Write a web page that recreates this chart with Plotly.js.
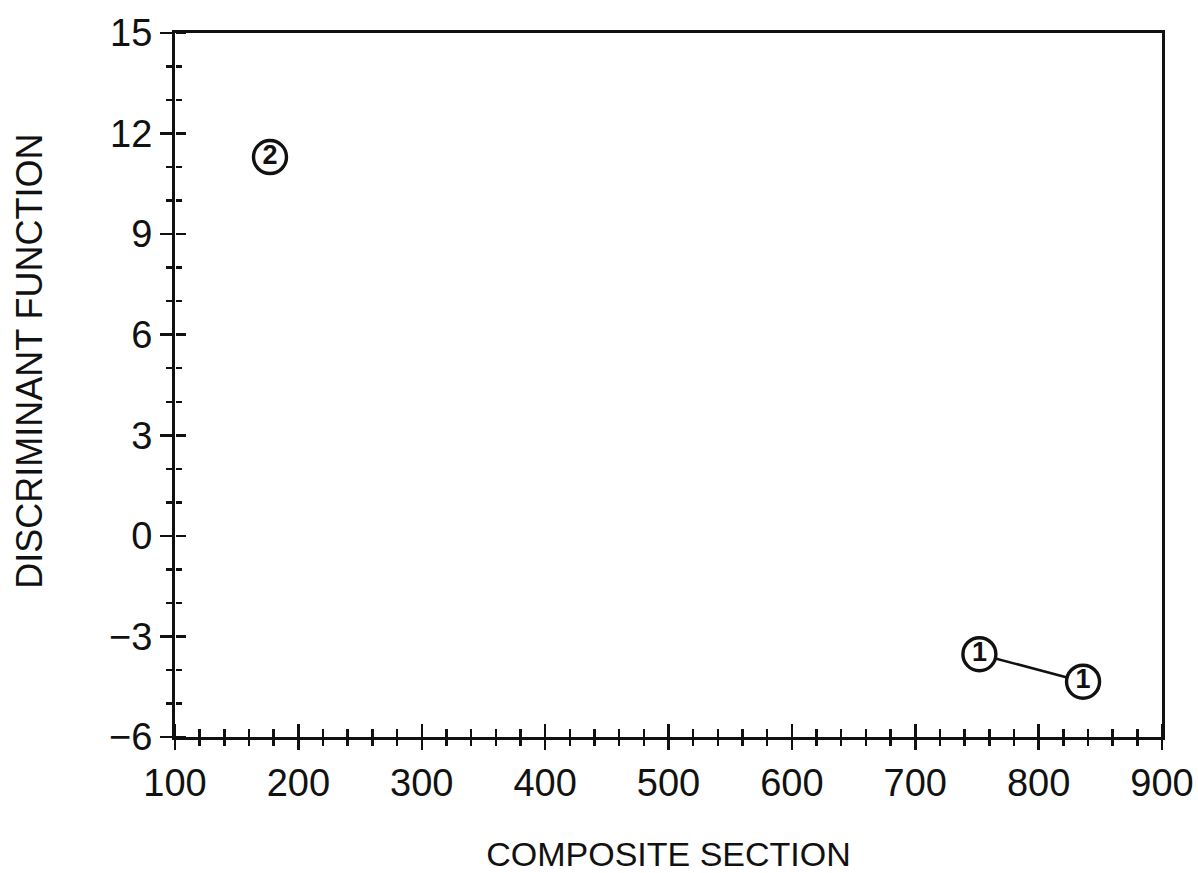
<!DOCTYPE html>
<html>
<head>
<meta charset="utf-8">
<script src="https://cdn.plot.ly/plotly-3.0.1.min.js"></script>
<style>
  html, body { margin: 0; padding: 0; background: #ffffff; }
  #chart { width: 1198px; height: 873px; }
</style>
</head>
<body>
<div id="chart"></div>
<script>
// Group membership of each sample along the composite section
const group1Labels = ['1', '1'];
const group1Section = [752, 836];
const group1Score = [-3.53, -4.35];

const group2Labels = ['2'];
const group2Section = [177];
const group2Score = [11.3];

const xRange = [100, 900];
const yRange = [-6, 15];

const ink = '#111';
const tickFont = { family: '"Liberation Sans", Arial, sans-serif', size: 38, color: ink };
const markerFont = { family: '"Liberation Sans", Arial, sans-serif', size: 27, color: ink, weight: 'bold' };

function groupTrace(xs, ys, labels, withLine) {
  return {
    type: 'scatter',
    x: xs,
    y: ys,
    text: labels,
    mode: withLine ? 'lines+markers+text' : 'markers+text',
    textposition: 'middle center',
    textfont: markerFont,
    line: { color: ink, width: 2.5 },
    marker: { symbol: 'circle', size: 33, color: '#ffffff', line: { color: ink, width: 3.4 } },
    cliponaxis: false,
    hoverinfo: 'skip',
    showlegend: false
  };
}

// transparent carriers so the inward tick axes get drawn
function tickCarrier(xa, ya) {
  return {
    type: 'scatter', mode: 'markers',
    x: [xRange[0]], y: [yRange[0]],
    xaxis: xa, yaxis: ya,
    marker: { opacity: 0, size: 1 },
    hoverinfo: 'skip', showlegend: false
  };
}

const traces = [
  groupTrace(group1Section, group1Score, group1Labels, true),
  groupTrace(group2Section, group2Score, group2Labels, false),
  tickCarrier('x2', 'y'),
  tickCarrier('x', 'y2')
];

const minorTicks = (dt, len) => ({ dtick: dt, ticks: 'outside', ticklen: len, tickwidth: 2.5, tickcolor: ink, showgrid: false });

const layout = {
  width: 1198,
  height: 873,
  paper_bgcolor: '#ffffff',
  plot_bgcolor: '#ffffff',
  margin: { l: 175, r: 36, t: 33, b: 136 },
  showlegend: false,
  xaxis: {
    range: xRange, dtick: 100, tick0: 100,
    ticks: 'outside', ticklen: 10, tickwidth: 2.5, tickcolor: ink,
    minor: minorTicks(20, 6),
    showline: true, linecolor: ink, linewidth: 3, mirror: true,
    showgrid: false, zeroline: false,
    tickfont: tickFont,
    title: {
      text: 'COMPOSITE SECTION',
      font: { family: '"Liberation Sans", Arial, sans-serif', size: 34, color: ink },
      standoff: 44
    }
  },
  yaxis: {
    range: yRange, dtick: 3, tick0: 0,
    ticks: 'outside', ticklen: 12, tickwidth: 2.5, tickcolor: ink,
    minor: minorTicks(1, 6),
    showline: true, linecolor: ink, linewidth: 3, mirror: true,
    showgrid: false, zeroline: false,
    tickfont: tickFont
  },
  // axes on the same lines facing the other way, so every tick crosses the frame
  xaxis2: {
    overlaying: 'x', anchor: 'free', position: 0, side: 'top',
    range: xRange, dtick: 100, tick0: 100,
    ticks: 'outside', ticklen: 13, tickwidth: 2.5, tickcolor: ink,
    minor: minorTicks(20, 8),
    showticklabels: false, showline: false, showgrid: false, zeroline: false
  },
  yaxis2: {
    overlaying: 'y', anchor: 'free', position: 0, side: 'right',
    range: yRange, dtick: 3, tick0: 0,
    ticks: 'outside', ticklen: 10, tickwidth: 2.5, tickcolor: ink,
    minor: minorTicks(1, 6),
    showticklabels: false, showline: false, showgrid: false, zeroline: false
  },
  annotations: [{
    text: 'DISCRIMINANT FUNCTION',
    textangle: -90,
    xref: 'paper', yref: 'paper',
    x: 0, y: 0.533,
    xanchor: 'center', yanchor: 'middle',
    xshift: -145,
    showarrow: false,
    font: { family: '"Liberation Sans", Arial, sans-serif', size: 36, color: ink }
  }]
};

Plotly.newPlot('chart', traces, layout, { displayModeBar: false, staticPlot: true });
</script>
</body>
</html>
